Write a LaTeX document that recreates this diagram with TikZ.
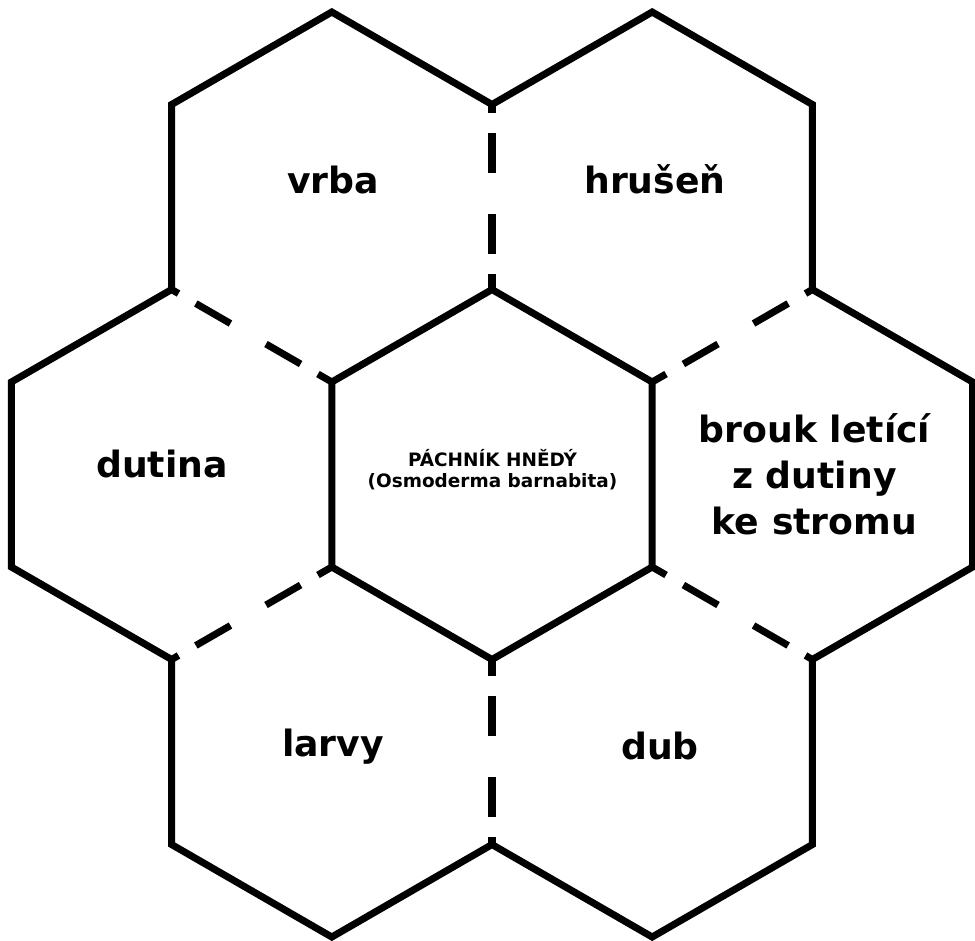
\documentclass[tikz,border=0pt]{standalone}
\usepackage{fontspec}
\setmainfont{DejaVu Sans}

\begin{document}
\begin{tikzpicture}[x=1cm, y=-1cm,
  hexline/.style={line width=2pt},
  spoke/.style={line width=2pt, dash pattern=on 1.6mm off 2mm on 4mm off 4.1mm on 4mm off 2mm on 3mm off 5mm},
  biglbl/.style={font=\fontsize{10.3}{12.95}\selectfont\bfseries, align=center, anchor=base},
  smalllbl/.style={font=\fontsize{5.25}{5.7}\selectfont\bfseries, align=center, anchor=base}
]
  \useasboundingbox (0,0) rectangle (9.75,9.40);

  % centre cell
  \draw[hexline] (4.92,2.895) -- (6.522,3.82) -- (6.522,5.67) -- (4.92,6.595)
    -- (3.318,5.67) -- (3.318,3.82) -- cycle;

  % dashed borders between the outer cells
  \draw[spoke] (4.92,2.895) -- (4.92,1.045);
  \draw[spoke] (6.522,3.82) -- (8.124,2.895);
  \draw[spoke] (6.522,5.67) -- (8.124,6.595);
  \draw[spoke] (4.92,6.595) -- (4.92,8.445);
  \draw[spoke] (3.318,5.67) -- (1.716,6.595);
  \draw[spoke] (3.318,3.82) -- (1.716,2.895);

  % outer rim
  \draw[hexline] (1.716,2.895) -- (1.716,1.045) -- (3.318,0.12) -- (4.92,1.045)
    -- (6.522,0.12) -- (8.124,1.045) -- (8.124,2.895)
    -- (9.726,3.82) -- (9.726,5.67) -- (8.124,6.595)
    -- (8.124,8.445) -- (6.522,9.37) -- (4.92,8.445)
    -- (3.318,9.37) -- (1.716,8.445) -- (1.716,6.595)
    -- (0.114,5.67) -- (0.114,3.82) -- cycle;

  % labels (base = last line)
  \node[smalllbl] (pachnik) at (4.925,4.87) {PÁCHNÍK HNĚDÝ\\(Osmoderma barnabita)};
  \node[biglbl] (vrba) at (3.33,1.93) {vrba};
  \node[biglbl] (hrusen) at (6.55,1.93) {hrušeň};
  \node[biglbl] (dutina) at (1.62,4.77) {dutina};
  \node[biglbl] (brouk) at (8.145,5.34) {brouk letící\\z dutiny\\ke stromu};
  \node[biglbl] (larvy) at (3.33,7.56) {larvy};
  \node[biglbl] (dub) at (6.60,7.595) {dub};
\end{tikzpicture}
\end{document}
